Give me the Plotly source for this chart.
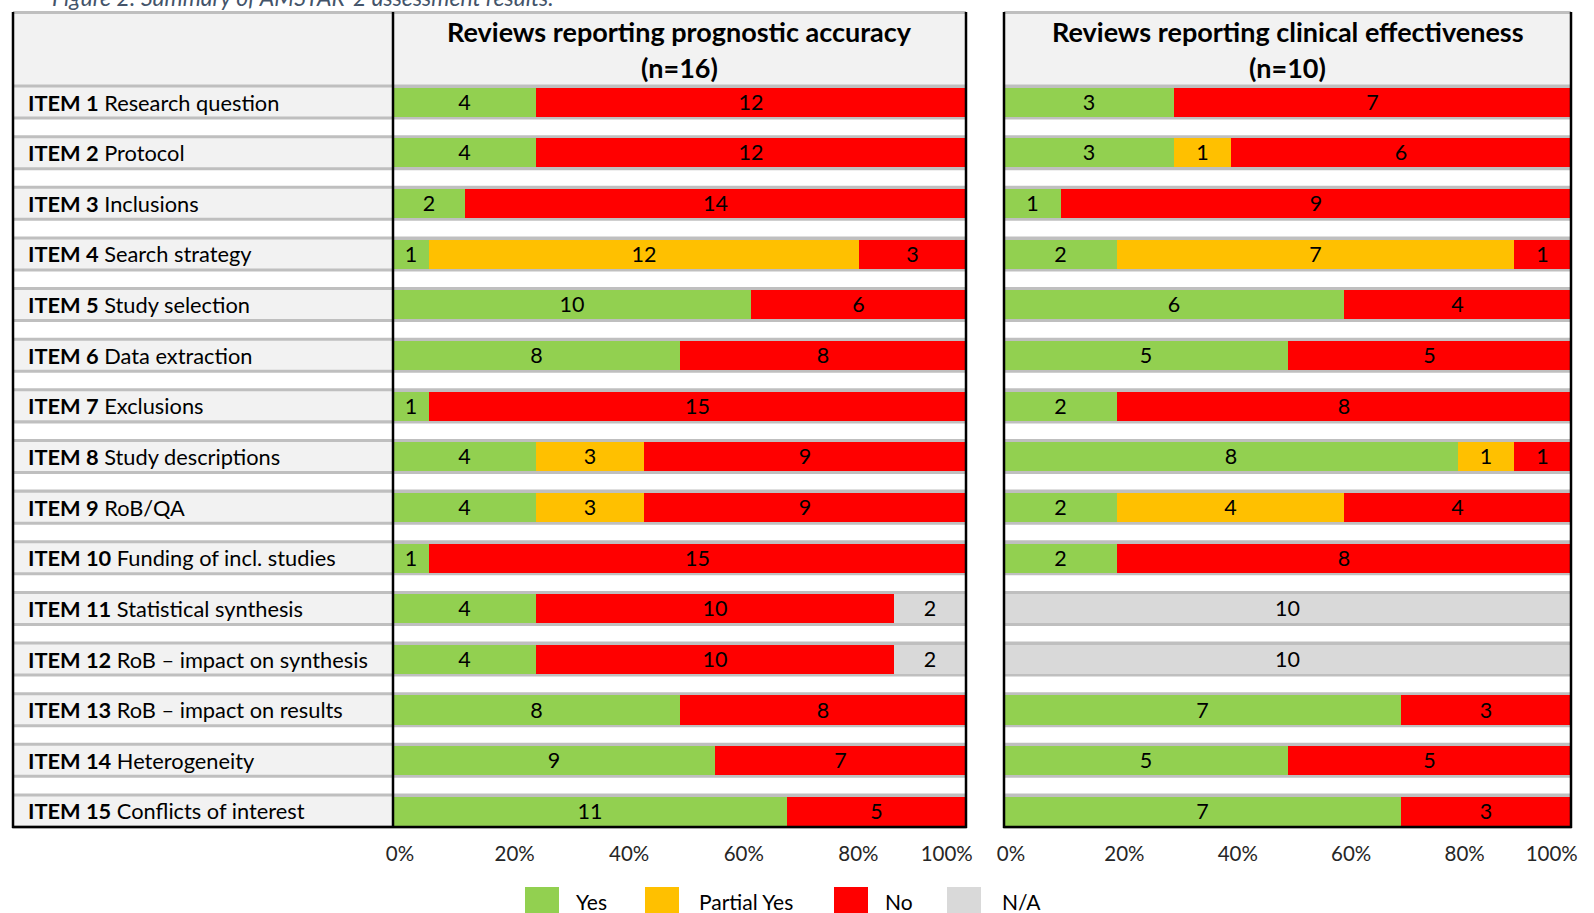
import plotly.graph_objects as go

W, H = 1594, 913

items = ["ITEM 1", "ITEM 2", "ITEM 3", "ITEM 4", "ITEM 5", "ITEM 6", "ITEM 7", "ITEM 8",
         "ITEM 9", "ITEM 10", "ITEM 11", "ITEM 12", "ITEM 13", "ITEM 14", "ITEM 15"]
item_names = ["Research question", "Protocol", "Inclusions", "Search strategy", "Study selection",
              "Data extraction", "Exclusions", "Study descriptions", "RoB/QA",
              "Funding of incl. studies", "Statistical synthesis", "RoB \u2013 impact on synthesis",
              "RoB \u2013 impact on results", "Heterogeneity", "Conflicts of interest"]

categories = ["Yes", "Partial Yes", "No", "N/A"]
colors = ["#92D050", "#FFC000", "#FF0000", "#D9D9D9"]

# Reviews reporting prognostic accuracy (n=16)
prog_n = 16
prog_yes = [4, 4, 2, 1, 10, 8, 1, 4, 4, 1, 4, 4, 8, 9, 11]
prog_partial = [0, 0, 0, 12, 0, 0, 0, 3, 3, 0, 0, 0, 0, 0, 0]
prog_no = [12, 12, 14, 3, 6, 8, 15, 9, 9, 15, 10, 10, 8, 7, 5]
prog_na = [0, 0, 0, 0, 0, 0, 0, 0, 0, 0, 2, 2, 0, 0, 0]

# Reviews reporting clinical effectiveness (n=10)
clin_n = 10
clin_yes = [3, 3, 1, 2, 6, 5, 2, 8, 2, 2, 0, 0, 7, 5, 7]
clin_partial = [0, 1, 0, 7, 0, 0, 0, 1, 4, 0, 0, 0, 0, 0, 0]
clin_no = [7, 6, 9, 1, 4, 5, 8, 1, 4, 8, 0, 0, 3, 5, 3]
clin_na = [0, 0, 0, 0, 0, 0, 0, 0, 0, 0, 10, 10, 0, 0, 0]

panel_titles = ["Reviews reporting prognostic accuracy", "Reviews reporting clinical effectiveness"]
panel_n_labels = ["(n=16)", "(n=10)"]
tick_vals = [0, 20, 40, 60, 80, 100]
tick_text = ["0%", "20%", "40%", "60%", "80%", "100%"]
caption = "Figure 2: Summary of AMSTAR-2 assessment results."

FONT = "Lato"


def px(x):
    return x / W


def py(y):
    return 1 - y / H


# geometry (pixels)
TAB_L, LAB_R, P1_R = 13, 393, 966
P2_L, P2_R = 1004, 1571
HEAD_T, HEAD_B = 12, 86
BOT = 827
Y_TOP, Y_BOT = 76.7, 836.3

fig = go.Figure()

panels = [
    ("x", prog_n, [prog_yes, prog_partial, prog_no, prog_na]),
    ("x2", clin_n, [clin_yes, clin_partial, clin_no, clin_na]),
]
for xa, n, series in panels:
    for cat, col, vals in zip(categories, colors, series):
        xs = [v / n * 100 if v > 0 else None for v in vals]
        txt = [str(v) if v > 0 else "" for v in vals]
        fig.add_trace(go.Bar(
            y=items, x=xs, orientation="h", name=cat,
            marker=dict(color=col, line=dict(width=0)),
            text=txt, textposition="inside", insidetextanchor="middle",
            textangle=0, constraintext="none",
            textfont=dict(family=FONT, size=21.5, color="black"),
            xaxis=xa, yaxis="y", width=0.573, showlegend=False,
            hoverinfo="skip",
        ))

shapes = []
# header backgrounds
for x0, x1 in [(TAB_L, P1_R), (P2_L, P2_R)]:
    shapes.append(dict(type="rect", xref="paper", yref="paper", x0=px(x0), x1=px(x1),
                       y0=py(HEAD_B), y1=py(HEAD_T), fillcolor="#F2F2F2", line=dict(width=0),
                       layer="below"))
    shapes.append(dict(type="rect", xref="paper", yref="paper", x0=px(x0), x1=px(x1),
                       y0=py(HEAD_T + 2), y1=py(HEAD_T - 1), fillcolor="#BFBFBF", line=dict(width=0),
                       layer="below"))
# row bands
for i in range(len(items)):
    for x0, x1 in [(TAB_L, P1_R), (P2_L, P2_R)]:
        shapes.append(dict(type="rect", xref="paper", yref="y", x0=px(x0), x1=px(x1),
                           y0=i - 0.346, y1=i + 0.346, fillcolor="#BFBFBF", line=dict(width=0),
                           layer="below"))
    shapes.append(dict(type="rect", xref="paper", yref="y", x0=px(TAB_L), x1=px(LAB_R),
                       y0=i - 0.2865, y1=i + 0.2865, fillcolor="#F2F2F2", line=dict(width=0),
                       layer="below"))
# black borders
for x in [TAB_L, LAB_R, P1_R, P2_L, P2_R]:
    shapes.append(dict(type="line", xref="paper", yref="paper", x0=px(x), x1=px(x),
                       y0=py(BOT + 1), y1=py(HEAD_T), line=dict(color="black", width=2.5),
                       layer="above"))
for x0, x1 in [(TAB_L, P1_R), (P2_L, P2_R)]:
    shapes.append(dict(type="line", xref="paper", yref="paper", x0=px(x0 - 1), x1=px(x1 + 1),
                       y0=py(BOT), y1=py(BOT), line=dict(color="black", width=2.5),
                       layer="above"))

annotations = []
# caption (partly cut off at the top, as in the reference)
annotations.append(dict(text="<i>" + caption + "</i>", xref="paper", yref="paper",
                        x=px(50), y=py(-3), xanchor="left", yanchor="middle", showarrow=False,
                        font=dict(family=FONT, size=23, color="#44546A")))
# panel titles
for cx, t, nl in [((LAB_R + P1_R) / 2, panel_titles[0], panel_n_labels[0]),
                  ((P2_L + P2_R) / 2, panel_titles[1], panel_n_labels[1])]:
    annotations.append(dict(text="<b>" + t + "</b>", xref="paper", yref="paper", x=px(cx),
                            y=py(31.5), xanchor="center", yanchor="middle", showarrow=False,
                            font=dict(family=FONT, size=27, color="black")))
    annotations.append(dict(text="<b>" + nl + "</b>", xref="paper", yref="paper", x=px(cx),
                            y=py(67), xanchor="center", yanchor="middle", showarrow=False,
                            font=dict(family=FONT, size=27, color="black")))
# item labels
for it, nm in zip(items, item_names):
    annotations.append(dict(text="<b>" + it + "</b> " + nm, xref="paper", yref="y",
                            x=px(26), y=it, xanchor="left", yanchor="middle", showarrow=False,
                            font=dict(family=FONT, size=21.8, color="black")))
# legend
leg_sw = [525, 645, 834, 947]
leg_tx = [574, 697, 883, 1000]
for cat, col, sx, tx in zip(categories, colors, leg_sw, leg_tx):
    shapes.append(dict(type="rect", xref="paper", yref="paper", x0=px(sx), x1=px(sx + 34),
                       y0=py(915), y1=py(887), fillcolor=col, line=dict(width=0)))
    annotations.append(dict(text=cat, xref="paper", yref="paper", x=px(tx), y=py(901),
                            xanchor="left", yanchor="middle", showarrow=False,
                            font=dict(family=FONT, size=21, color="black")))

# last tick label is pulled inside the plot edge, as in the reference
tick_text_disp = tick_text[:-1] + [tick_text[-1] + "\u00a0" * 10]

axis_common = dict(range=[0, 100], tickvals=tick_vals, ticktext=tick_text_disp, showgrid=False,
                   zeroline=False, showline=False, ticks="", fixedrange=True, automargin=False,
                   ticklabelshift=7, ticklabelstandoff=3, ticklabeloverflow="allow",
                   tickfont=dict(family=FONT, size=20.5, color="#262626"), anchor="y")

fig.update_layout(
    template="none",
    width=W, height=H, autosize=False,
    margin=dict(l=0, r=0, t=0, b=0, pad=0),
    paper_bgcolor="white", plot_bgcolor="rgba(0,0,0,0)",
    barmode="stack", bargap=0,
    xaxis=dict(domain=[px(LAB_R), px(P1_R)], **axis_common),
    xaxis2=dict(domain=[px(P2_L), px(P2_R)], **axis_common),
    yaxis=dict(domain=[py(Y_BOT), py(Y_TOP)], type="category", categoryorder="array",
               categoryarray=items, range=[len(items) - 0.5, -0.5], showticklabels=False,
               showgrid=False, zeroline=False, showline=False, fixedrange=True,
               automargin=False),
    shapes=shapes, annotations=annotations,
    showlegend=False,
    font=dict(family=FONT),
)

fig.write_html(
    "out.html",
    config={"responsive": False, "displayModeBar": False},
    post_script="document.body.style.margin='0';document.body.style.overflow='hidden';",
)
